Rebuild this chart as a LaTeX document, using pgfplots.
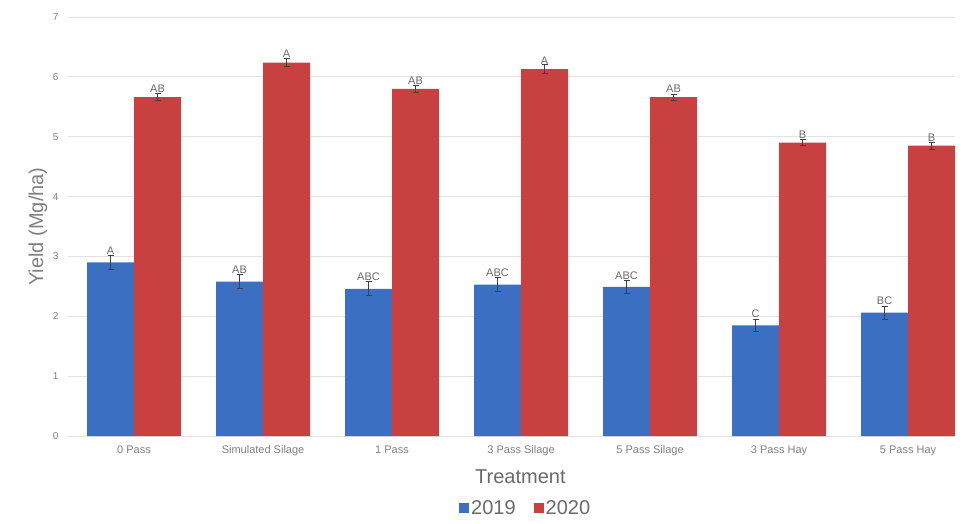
\documentclass[border=0pt]{standalone}
\usepackage{pgfplots}
\pgfplotsset{compat=1.18}
\usepackage{pgfplotstable}
\usepackage{fontspec}
\setmainfont{Liberation Sans}

\definecolor{bblue}{HTML}{3B6FC2}
\definecolor{bred}{HTML}{C8403F}
\definecolor{gridc}{HTML}{E2E2E2}
\definecolor{tickc}{HTML}{808080}
\definecolor{titlec}{HTML}{6A6A6A}
\definecolor{errc}{HTML}{404040}

% treatment index, mean yield, standard error, letter group
\pgfplotstableread{
x y err lab
0 2.90 0.12 A
1 2.58 0.12 AB
2 2.46 0.12 ABC
3 2.53 0.12 ABC
4 2.49 0.11 ABC
5 1.85 0.10 C
6 2.06 0.11 BC
}\yieldA
\pgfplotstableread{
x y err lab
0 5.66 0.06 AB
1 6.24 0.06 A
2 5.80 0.06 AB
3 6.13 0.07 A
4 5.66 0.05 AB
5 4.90 0.05 B
6 4.85 0.06 B
}\yieldB

\begin{document}
\begin{tikzpicture}
\path[use as bounding box] (-68pt,-87pt) rectangle (905pt,436pt);
\begin{axis}[
  scale only axis,
  width=887pt, height=419pt,
  ybar=0pt, bar width=47pt,
  xmin=-0.512, xmax=6.364,
  ymin=0, ymax=7,
  ytick={0,1,...,7},
  xtick=data,
  xticklabels={0 Pass, Simulated Silage, 1 Pass, 3 Pass Silage, 5 Pass Silage, 3 Pass Hay, 5 Pass Hay},
  axis x line*=bottom,
  axis y line*=left,
  x axis line style={draw=gridc, line width=0.8pt, -},
  y axis line style={draw=none},
  ymajorgrids, grid style={draw=gridc, line width=0.8pt},
  major tick length=0pt,
  tick style={draw=none},
  /pgf/number format/assume math mode=true,
  yticklabel style={font=\fontsize{10}{12}\selectfont, text=tickc, anchor=east, xshift=-6pt},
  xticklabel style={font=\fontsize{11}{13}\selectfont, text=tickc, anchor=north, yshift=-6pt},
  xlabel={Treatment},
  xlabel style={font=\fontsize{20}{24}\selectfont, text=titlec, at={(axis description cs:0.51,-0.098)}, anchor=center},
  ylabel={Yield (Mg/ha)},
  ylabel style={font=\fontsize{20}{24}\selectfont, text=tickc, at={(axis description cs:-0.034,0.5)}, anchor=center},
  legend style={at={(axis description cs:0.516,-0.172)}, anchor=center, draw=none, fill=none,
    font=\fontsize{20}{24}\selectfont, text=titlec, legend columns=2,
    /tikz/every even column/.append style={column sep=16pt}},
  legend image code/.code={\fill[#1] (2pt,-5pt) rectangle (12pt,5pt);},
  legend cell align=left,
  error bars/y dir=both, error bars/y explicit,
  error bars/error bar style={draw=errc, line width=0.9pt},
  error bars/error mark options={draw=errc, rotate=90, mark size=3pt, line width=0.9pt},
  point meta=explicit symbolic,
  nodes near coords,
  every node near coord/.append style={font=\fontsize{11}{13}\selectfont, text=titlec, anchor=south, inner sep=1pt},
]
\addplot[fill=bblue, draw=none, every node near coord/.append style={yshift=6.5pt}]
  table[x=x, y=y, y error=err, meta=lab] {\yieldA};
\addlegendentry{2019}
\addplot[fill=bred, draw=none, every node near coord/.append style={yshift=3.5pt}]
  table[x=x, y=y, y error=err, meta=lab] {\yieldB};
\addlegendentry{2020}
\end{axis}
\end{tikzpicture}
\end{document}
